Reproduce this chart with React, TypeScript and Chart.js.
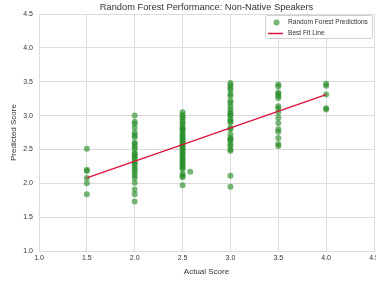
import React, { useEffect, useRef } from "react";
import { Chart, registerables } from "chart.js";

Chart.register(...registerables);

const TITLE = "Random Forest Performance: Non-Native Speakers";
const X_LABEL = "Actual Score";
const Y_LABEL = "Predicted Score";
const SCATTER_LABEL = "Random Forest Predictions";
const LINE_LABEL = "Best Fit Line";

const actualScores = [1.5, 2.0, 2.5, 3.0, 3.5, 4.0];
const pred15 = [2.51, 2.2, 2.18, 2.08, 2.0, 1.84];
const pred20 = [3.0, 2.91, 2.88, 2.82, 2.75, 2.71, 2.68, 2.6, 2.58, 2.54, 2.51, 2.45, 2.43, 2.4, 2.37, 2.33, 2.3, 2.27, 2.23, 2.2, 2.16, 2.12, 2.08, 2.01, 1.91, 1.84, 1.73];
const pred25 = [3.05, 3.01, 2.98, 2.95, 2.91, 2.88, 2.84, 2.81, 2.79, 2.76, 2.73, 2.7, 2.68, 2.65, 2.62, 2.6, 2.57, 2.55, 2.52, 2.5, 2.47, 2.44, 2.42, 2.39, 2.36, 2.34, 2.31, 2.29, 2.26, 2.23, 2.21, 2.14, 2.11, 2.09, 1.97];
const pred30 = [3.48, 3.45, 3.41, 3.38, 3.32, 3.29, 3.22, 3.19, 3.14, 3.09, 3.05, 3.02, 3.0, 2.95, 2.92, 2.9, 2.82, 2.8, 2.72, 2.67, 2.65, 2.63, 2.58, 2.55, 2.5, 2.48, 2.11, 1.95];
const pred35 = [3.46, 3.43, 3.34, 3.32, 3.29, 3.26, 3.14, 3.11, 3.05, 2.97, 2.89, 2.8, 2.76, 2.67, 2.58, 2.55];
const pred40 = [3.47, 3.44, 3.31, 3.11, 3.09];
const extraActual = [2.58];
const extraPred = [2.17];

const fitX = [1.5, 4.0];
const fitY = [2.08, 3.31];

const axisMin = 1.0;
const axisMax = 4.5;
const axisStep = 0.5;

const FONT = "'Liberation Sans', Arial, sans-serif";
const GREEN = "rgba(34,139,34,0.62)";
const RED = "#DC143C";
const GRID = "#dcdcdc";
const TEXT = "#333333";

const predictedByActual = [pred15, pred20, pred25, pred30, pred35, pred40];

function buildScatter() {
  const pts: { x: number; y: number }[] = [];
  actualScores.forEach((a, i) => {
    predictedByActual[i].forEach((p) => pts.push({ x: a, y: p }));
  });
  extraActual.forEach((a, i) => pts.push({ x: a, y: extraPred[i] }));
  return pts;
}

const legendPlugin = {
  id: "customLegend",
  afterDraw(chart: any) {
    const ctx = chart.ctx;
    const ds = chart.data.datasets;
    const bx = 265.5, by = 15.5, bw = 107, bh = 23, r = 2;
    ctx.save();
    ctx.beginPath();
    ctx.moveTo(bx + r, by);
    ctx.lineTo(bx + bw - r, by);
    ctx.quadraticCurveTo(bx + bw, by, bx + bw, by + r);
    ctx.lineTo(bx + bw, by + bh - r);
    ctx.quadraticCurveTo(bx + bw, by + bh, bx + bw - r, by + bh);
    ctx.lineTo(bx + r, by + bh);
    ctx.quadraticCurveTo(bx, by + bh, bx, by + bh - r);
    ctx.lineTo(bx, by + r);
    ctx.quadraticCurveTo(bx, by, bx + r, by);
    ctx.closePath();
    ctx.fillStyle = "rgba(255,255,255,0.85)";
    ctx.fill();
    ctx.strokeStyle = "#d0d0d0";
    ctx.lineWidth = 1;
    ctx.stroke();

    ctx.fillStyle = GREEN;
    ctx.beginPath();
    ctx.arc(276.5, 22.5, 3, 0, Math.PI * 2);
    ctx.fill();

    ctx.strokeStyle = RED;
    ctx.lineWidth = 1.5;
    ctx.beginPath();
    ctx.moveTo(268, 33.5);
    ctx.lineTo(283, 33.5);
    ctx.stroke();

    ctx.fillStyle = TEXT;
    ctx.font = `6.6px ${FONT}`;
    ctx.textBaseline = "middle";
    ctx.textAlign = "left";
    ctx.fillText(ds[0].label, 288, 22.5);
    ctx.fillText(ds[1].label, 288, 33.5);
    ctx.restore();
  },
};

export default function App() {
  const ref = useRef<HTMLCanvasElement | null>(null);

  useEffect(() => {
    document.body.style.margin = "0";
    const canvas = ref.current!;
    const chart = new Chart(canvas, {
      type: "scatter",
      data: {
        datasets: [
          {
            type: "scatter",
            label: SCATTER_LABEL,
            data: buildScatter(),
            backgroundColor: GREEN,
            borderColor: "rgba(0,0,0,0)",
            borderWidth: 0,
            pointRadius: 3,
            order: 2,
          },
          {
            type: "line",
            label: LINE_LABEL,
            data: fitX.map((x, i) => ({ x, y: fitY[i] })),
            borderColor: RED,
            backgroundColor: RED,
            borderWidth: 1.5,
            pointRadius: 0,
            fill: false,
            order: 1,
          } as any,
        ],
      },
      options: {
        responsive: false,
        animation: false,
        devicePixelRatio: 1,
        layout: { autoPadding: false, padding: { left: 1, right: 2, top: 0, bottom: 0 } },
        plugins: {
          legend: { display: false },
          tooltip: { enabled: false },
          title: {
            display: true,
            fullSize: false,
            text: TITLE,
            color: TEXT,
            font: { family: FONT, size: 9.3, weight: "normal", lineHeight: 1.2 },
            padding: { top: 1.5, bottom: 1.4 },
          },
        },
        scales: {
          x: {
            type: "linear",
            min: axisMin,
            max: axisMax,
            ticks: {
              stepSize: axisStep,
              padding: 3,
              color: TEXT,
              font: { family: FONT, size: 7 },
              callback: (v: any) => Number(v).toFixed(1),
              maxRotation: 0,
            },
            grid: { color: GRID, drawTicks: false, lineWidth: 1 },
            border: { color: GRID },
            title: {
              display: true,
              text: X_LABEL,
              color: TEXT,
              font: { family: FONT, size: 8 },
              padding: { top: 0, bottom: 4 },
            },
            afterFit: (s: any) => {
              s.height = 30;
              s.paddingLeft = 0;
              s.paddingRight = 0;
            },
          },
          y: {
            type: "linear",
            min: axisMin,
            max: axisMax,
            ticks: {
              stepSize: axisStep,
              padding: 6,
              color: TEXT,
              font: { family: FONT, size: 7 },
              callback: (v: any) => Number(v).toFixed(1),
            },
            grid: { color: GRID, drawTicks: false, lineWidth: 1 },
            border: { color: GRID },
            title: {
              display: true,
              text: Y_LABEL,
              color: TEXT,
              font: { family: FONT, size: 8 },
              padding: { top: 7.5, bottom: 0 },
            },
            afterFit: (s: any) => {
              s.width = 38;
              s.paddingTop = 0;
              s.paddingBottom = 0;
            },
          },
        },
      },
      plugins: [legendPlugin],
    } as any);
    return () => chart.destroy();
  }, []);

  return (
    <div style={{ position: "fixed", left: 0, top: 0, width: 376, height: 281, background: "#fff" }}>
      <canvas ref={ref} width={376} height={281} style={{ display: "block", width: 376, height: 281 }} />
    </div>
  );
}
